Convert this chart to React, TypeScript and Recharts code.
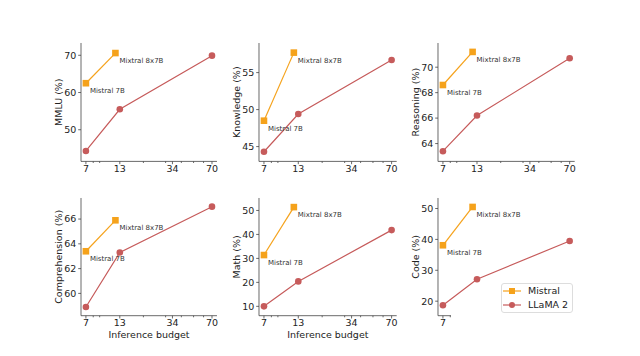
import React from 'react';
import { LineChart, Line, XAxis, YAxis, LabelList } from 'recharts';

// inference budget (B params), log x axis
const llamaBudget = [7, 13, 70];
const mistralBudget = [7, 12];
const mistralNames = ['Mistral 7B', 'Mixtral 8x7B'];
const majorTicks = [7, 13, 34, 70];
const minorTicks = [8, 9, 20, 30, 40, 50, 60];

const mmluLlama = [44.3, 55.5, 69.9];
const mmluMistral = [62.5, 70.6];
const knowledgeLlama = [44.3, 49.4, 56.7];
const knowledgeMistral = [48.5, 57.7];
const reasoningLlama = [63.4, 66.2, 70.7];
const reasoningMistral = [68.6, 71.2];
const comprehensionLlama = [58.9, 63.3, 67.0];
const comprehensionMistral = [63.4, 65.9];
const mathLlama = [10.0, 20.4, 41.8];
const mathMistral = [31.4, 51.4];
const codeLlama = [18.7, 27.1, 39.5];
const codeMistral = [38.1, 50.5];

const FONT = 'DejaVu Sans';
const MISTRAL = '#F5A21B';
const LLAMA = '#C65B5B';
const AXIS = '#444';

interface Panel {
  label: string;
  llama: number[];
  mistral: number[];
  domain: [number, number];
  ticks: number[];
  col: number;
  row: number;
}

const panels: Panel[] = [
  { label: 'MMLU (%)', llama: mmluLlama, mistral: mmluMistral, domain: [41.5, 73.3], ticks: [50, 60, 70], col: 0, row: 0 },
  { label: 'Knowledge (%)', llama: knowledgeLlama, mistral: knowledgeMistral, domain: [43, 59], ticks: [45, 50, 55], col: 1, row: 0 },
  { label: 'Reasoning (%)', llama: reasoningLlama, mistral: reasoningMistral, domain: [62.6, 71.9], ticks: [64, 66, 68, 70], col: 2, row: 0 },
  { label: 'Comprehension (%)', llama: comprehensionLlama, mistral: comprehensionMistral, domain: [58.2, 67.7], ticks: [60, 62, 64, 66], col: 0, row: 1 },
  { label: 'Math (%)', llama: mathLlama, mistral: mathMistral, domain: [6.1, 55.2], ticks: [10, 20, 30, 40, 50], col: 1, row: 1 },
  { label: 'Code (%)', llama: codeLlama, mistral: codeMistral, domain: [15.3, 53.4], ticks: [20, 30, 40, 50], col: 2, row: 1 },
];

// plot area edges
const plotLeft = [80.7, 259, 438.3];
const plotRight = [216.7, 396.7, 575];
const plotTop = [43.3, 198.3];
const plotBottom = [161.7, 316];

const XTick = (props: any) => {
  const { x, y, payload } = props;
  const major = majorTicks.includes(payload.value);
  return (
    <g>
      <line x1={x} x2={x} y1={y} y2={y + (major ? 2.8 : 1.6)} stroke={AXIS} strokeWidth={0.8} />
      {major && (
        <text x={x} y={y + 8} textAnchor="middle" dominantBaseline="middle" fontSize={9.5} fill="#222" fontFamily={FONT}>
          {payload.value}
        </text>
      )}
    </g>
  );
};

const SquareDot = (props: any) => {
  const { cx, cy, index } = props;
  return <rect key={`sq-${index}`} x={cx - 3.3} y={cy - 3.3} width={6.6} height={6.6} fill={MISTRAL} />;
};

const Annotation = (props: any) => {
  const { x, y, value } = props;
  return (
    <text x={x + 4} y={y + 8} dominantBaseline="middle" fontSize={7} fill="#333" fontFamily={FONT}>
      {value}
    </text>
  );
};

const Subplot: React.FC<{ p: Panel }> = ({ p }) => {
  const left = plotLeft[p.col] - 50;
  const top = plotTop[p.row] - 10;
  const width = plotRight[p.col] - plotLeft[p.col] + 60;
  const height = plotBottom[p.row] - plotTop[p.row] + 50;
  const llamaData = llamaBudget.map((b, i) => ({ x: b, y: p.llama[i] }));
  const mistralData = mistralBudget.map((b, i) => ({ x: b, y: p.mistral[i], name: mistralNames[i] }));

  return (
    <div style={{ position: 'absolute', left, top }}>
      <LineChart width={width} height={height} margin={{ top: 10, right: 10, left: 0, bottom: 0 }}>
        <XAxis
          type="number"
          dataKey="x"
          scale="log"
          domain={[6.4, 76.7]}
          allowDataOverflow
          ticks={[...majorTicks, ...minorTicks].sort((a, b) => a - b)}
          interval={0}
          tick={<XTick />}
          tickLine={false}
          tickSize={0}
          tickMargin={0}
          height={40}
          axisLine={{ stroke: AXIS, strokeWidth: 0.8 }}
          label={p.row === 1 ? { value: 'Inference budget', position: 'insideBottom', offset: 18, fontSize: 9.5, fill: '#222', fontFamily: FONT } : undefined}
        />
        <YAxis
          type="number"
          dataKey="y"
          domain={p.domain}
          allowDataOverflow
          ticks={p.ticks}
          interval={0}
          width={50}
          tickSize={2.8}
          tickMargin={1.8}
          tick={{ fontSize: 9.5, fill: '#222', fontFamily: FONT }}
          tickLine={{ stroke: AXIS, strokeWidth: 0.8 }}
          axisLine={{ stroke: AXIS, strokeWidth: 0.8 }}
          label={{ value: p.label, angle: -90, position: 'insideLeft', offset: 27.6, fontSize: 9.5, fill: '#222', fontFamily: FONT, style: { textAnchor: 'middle' } }}
        />
        <Line
          data={llamaData}
          dataKey="y"
          stroke={LLAMA}
          strokeWidth={1.2}
          dot={{ r: 3.3, fill: LLAMA, stroke: LLAMA, strokeWidth: 0 }}
          isAnimationActive={false}
        />
        <Line
          data={mistralData}
          dataKey="y"
          stroke={MISTRAL}
          strokeWidth={1.2}
          dot={<SquareDot />}
          isAnimationActive={false}
        >
          <LabelList dataKey="name" content={<Annotation />} />
        </Line>
      </LineChart>
    </div>
  );
};

const LegendBox: React.FC = () => {
  const items = [
    { name: 'Mistral', color: MISTRAL, square: true },
    { name: 'LLaMA 2', color: LLAMA, square: false },
  ];
  return (
    <div
      style={{
        position: 'absolute',
        left: 500.5,
        top: 282.5,
        width: 72,
        height: 30,
        boxSizing: 'border-box',
        border: '1px solid #ddd',
        borderRadius: 3,
        background: 'rgba(255,255,255,0.9)',
      }}
    >
      {items.map((it, i) => (
        <div
          key={it.name}
          style={{ position: 'absolute', left: 1.5, top: 1.7 + i * 13.3, height: 12, display: 'flex', alignItems: 'center', whiteSpace: 'nowrap' }}
        >
          <svg width={18} height={12} style={{ flexShrink: 0 }}>
            <line x1={0} x2={18} y1={6} y2={6} stroke={it.color} strokeWidth={1.2} />
            {it.square ? (
              <rect x={6} y={3} width={6} height={6} fill={it.color} />
            ) : (
              <circle cx={9} cy={6} r={3} fill={it.color} />
            )}
          </svg>
          <span style={{ marginLeft: 7, fontSize: 9.5, fontFamily: FONT, color: '#222', lineHeight: '12px' }}>{it.name}</span>
        </div>
      ))}
    </div>
  );
};

export default function App() {
  return (
    <div style={{ position: 'fixed', left: 0, top: 0, width: 640, height: 356, background: '#fff', overflow: 'hidden' }}>
      {panels.map((p) => (
        <Subplot key={p.label} p={p} />
      ))}
      {/* the lower-right corner of the reference is blanked out */}
      <div style={{ position: 'absolute', left: 451, top: 314, width: 189, height: 42, background: '#fff' }} />
      <LegendBox />
    </div>
  );
}
